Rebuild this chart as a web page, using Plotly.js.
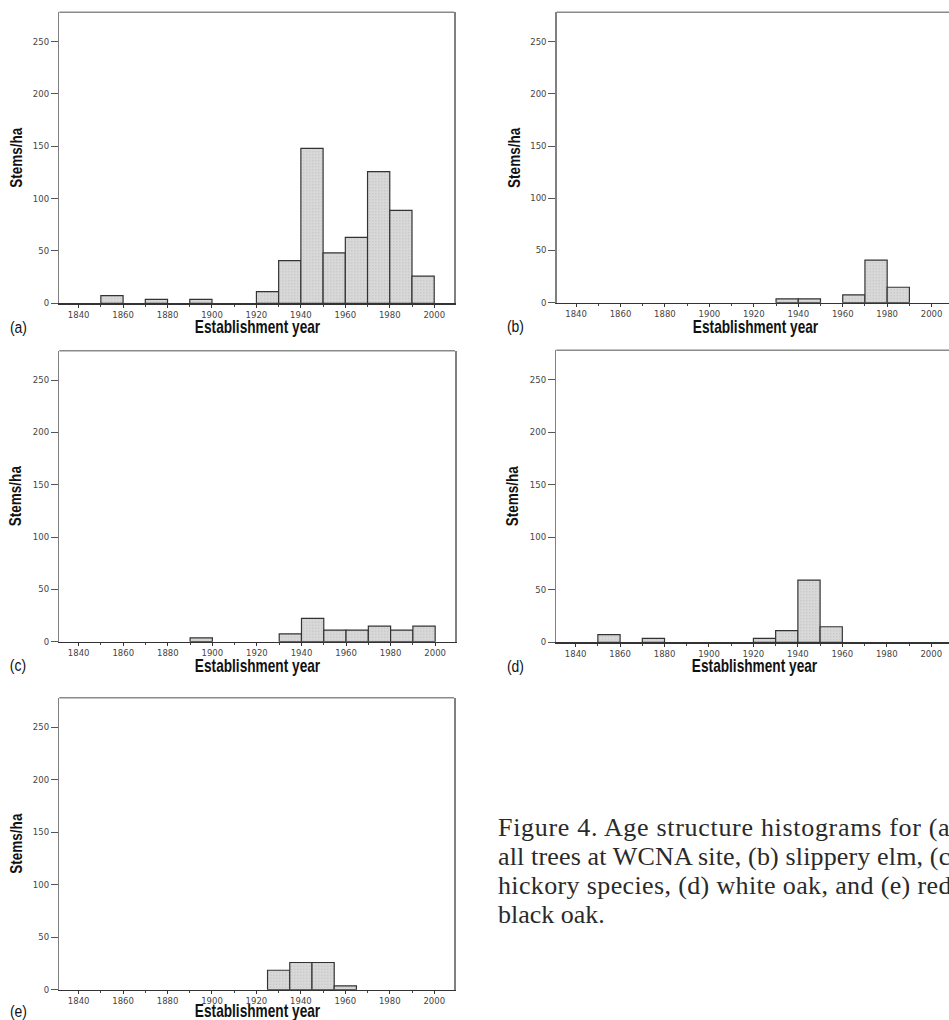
<!DOCTYPE html>
<html>
<head>
<meta charset="utf-8">
<script src="https://cdn.plot.ly/plotly-3.0.1.min.js"></script>
<style>
  html, body { margin: 0; padding: 0; background: #fff; overflow: hidden; }
  #chart { width: 960px; height: 1020px; }
</style>
</head>
<body>
<div id="chart"></div>
<script>
// ---------------- data ----------------
const yearTicks = [1840, 1860, 1880, 1900, 1920, 1940, 1960, 1980, 2000];
const stemTicks = [0, 50, 100, 150, 200, 250];

// bin start years (10-year bins) and stems/ha per bin
const binsA  = [1850, 1870, 1890, 1920, 1930, 1940, 1950, 1960, 1970, 1980, 1990];
const stemsA = [7.4, 3.7, 3.7, 11.1, 40.7, 148.0, 48.1, 62.9, 125.8, 88.8, 25.9];

const binsB  = [1930, 1940, 1960, 1970, 1980];
const stemsB = [3.7, 3.7, 7.4, 40.7, 14.8];

const binsC  = [1890, 1930, 1940, 1950, 1960, 1970, 1980, 1990];
const stemsC = [3.7, 7.4, 22.2, 11.1, 11.1, 14.8, 11.1, 14.8];

const binsD  = [1850, 1870, 1920, 1930, 1940, 1950];
const stemsD = [7.4, 3.7, 3.7, 11.1, 59.2, 14.8];

const binsE  = [1925, 1935, 1945, 1955];
const stemsE = [18.5, 25.9, 25.9, 3.7];

const panelLabels = ['(a)', '(b)', '(c)', '(d)', '(e)'];
const xTitle = 'Establishment year';
const yTitle = 'Stems/ha';
const captionLines = [
  'Figure 4. Age structure histograms for (a)',
  'all trees at WCNA site, (b) slippery elm, (c)',
  'hickory species, (d) white oak, and (e) red/',
  'black oak.'
];

// ---------------- layout geometry (pixels) ----------------
const W = 960, H = 1020;
const px = p => p / W;
const py = p => 1 - p / H;

// plot-area boxes: left, right, top, bottom (pixels)
const boxes = [
  [59.3, 454.0, 12.3, 303.3],
  [556.7, 951.4, 12.3, 302.7],
  [59.3, 455.0, 350.7, 641.7],
  [556.3, 951.0, 350.3, 642.3],
  [59.3, 454.0, 697.7, 989.7]
];
const titleDrop = [24, 24, 24, 24, 21.5];
const binsAll = [binsA, binsB, binsC, binsD, binsE];
const stemsAll = [stemsA, stemsB, stemsC, stemsD, stemsE];

const sansFam = 'Liberation Sans, Arial, sans-serif';
const tickFont = { family: 'DejaVu Sans, Verdana, sans-serif', size: 8.5, color: '#444' };

const traces = [];
const layout = {
  width: W, height: H,
  margin: { l: 0, r: 0, t: 0, b: 0 },
  paper_bgcolor: '#ffffff',
  plot_bgcolor: '#ffffff',
  showlegend: false,
  bargap: 0,
  shapes: [],
  annotations: []
};
const narrowScale = {};  // annotation index -> horizontal condense factor (Arial Narrow look)
const captionIdx = [];   // caption lines to be justified

boxes.forEach((b, i) => {
  const n = i === 0 ? '' : String(i + 1);
  const xa = 'x' + n, ya = 'y' + n;
  traces.push({
    type: 'bar',
    x: binsAll[i],
    y: stemsAll[i],
    width: 10,
    offset: 0,
    xaxis: xa, yaxis: ya,
    marker: {
      color: '#d6d6d6',
      line: { color: '#333333', width: 1.2 },
      pattern: { shape: '.', fgcolor: '#b8b8b8', bgcolor: '#d8d8d8', size: 3, solidity: 0.12 }
    },
    hoverinfo: 'skip'
  });
  layout['xaxis' + n] = {
    domain: [px(b[0]), px(b[1])],
    anchor: ya,
    range: [1831.3, 2008.9],
    showgrid: false, zeroline: false,
    showline: true, linecolor: '#333', linewidth: 1.3,
    ticks: 'outside', ticklen: 3, tickwidth: 1, tickcolor: '#333',
    tickmode: 'array', tickvals: yearTicks, ticktext: yearTicks.map(String),
    tickfont: tickFont,
    minor: { tickmode: 'linear', tick0: 1830, dtick: 10, ticks: 'outside', ticklen: 2, tickcolor: '#444', tickwidth: 1 },
    fixedrange: true
  };
  layout['yaxis' + n] = {
    domain: [py(b[3]), py(b[2])],
    anchor: xa,
    range: [0, 278],
    showgrid: false, zeroline: false,
    showline: true, mirror: true, linecolor: '#808080', linewidth: 1.5,
    ticks: 'outside', ticklen: 7, tickwidth: 1, tickcolor: '#555',
    tickmode: 'array', tickvals: stemTicks, ticktext: stemTicks.map(String),
    tickfont: tickFont,
    fixedrange: true
  };
  // top border of the frame
  layout.shapes.push({
    type: 'line', xref: xa + ' domain', yref: ya + ' domain',
    x0: 0, x1: 1, y0: 1, y1: 1,
    line: { color: '#8a8a8a', width: 1.5 }
  });
  // y-axis title
  narrowScale[layout.annotations.length] = 0.82;
  layout.annotations.push({
    xref: 'paper', yref: 'paper',
    x: px(b[0] - 43.6), y: py((b[2] + b[3]) / 2),
    xanchor: 'center', yanchor: 'middle', borderpad: 0,
    text: '<b>' + yTitle + '</b>', textangle: -90, showarrow: false,
    font: { family: sansFam, size: 16.5, color: '#111' }
  });
  // x-axis title
  narrowScale[layout.annotations.length] = 0.76;
  layout.annotations.push({
    xref: 'paper', yref: 'paper',
    x: px(b[0] + 198.5), y: py(b[3] + titleDrop[i]),
    xanchor: 'center', yanchor: 'middle', borderpad: 0,
    text: '<b>' + xTitle + '</b>', showarrow: false,
    font: { family: sansFam, size: 18, color: '#111' }
  });
  // panel label
  narrowScale[layout.annotations.length] = 0.82;
  layout.annotations.push({
    xref: 'paper', yref: 'paper',
    x: px(b[0] - 41.3), y: py(b[3] + titleDrop[i]),
    xanchor: 'center', yanchor: 'middle', borderpad: 0,
    text: panelLabels[i], showarrow: false,
    font: { family: sansFam, size: 17, color: '#111' }
  });
});

// caption
const capMid = [827, 856, 885, 914];
captionLines.forEach((t, k) => {
  if (k < captionLines.length - 1) captionIdx.push(layout.annotations.length);
  layout.annotations.push({
    xref: 'paper', yref: 'paper',
    x: px(497), y: py(capMid[k]),
    xanchor: 'left', yanchor: 'middle', align: 'left', borderpad: 0,
    text: t, showarrow: false,
    font: { family: 'Liberation Serif, Times New Roman, serif', size: 26, color: '#2a2a2a' }
  });
});

Plotly.newPlot('chart', traces, layout, { staticPlot: true, displayModeBar: false }).then(gd => {
  const groups = gd.querySelectorAll('g.annotation');
  groups.forEach(g => {
    const idx = +g.getAttribute('data-index');
    const txt = g.querySelector('text.annotation-text');
    if (!txt) return;
    if (narrowScale[idx]) {
      // Arial Narrow look: horizontally condensed Arial/Liberation Sans
      txt.style.transformBox = 'fill-box';
      txt.style.transformOrigin = 'center';
      txt.style.transform = 'scaleX(' + narrowScale[idx] + ')';
    }
    if (captionIdx.includes(idx)) {
      // justified caption column (runs past the right edge like the reference)
      txt.setAttribute('text-anchor', 'start');
      txt.setAttribute('textLength', '461');
      txt.setAttribute('lengthAdjust', 'spacing');
    }
  });
});
</script>
</body>
</html>
